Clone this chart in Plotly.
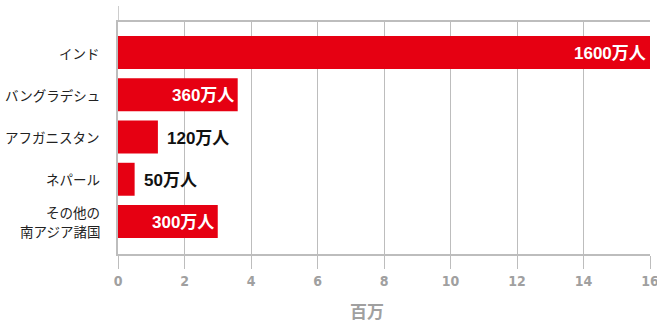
import plotly.graph_objects as go

# Population by country (millions)
categories = ["インド", "バングラデシュ", "アフガニスタン", "ネパール", "その他の<br>南アジア諸国"]
values = [16.0, 3.6, 1.2, 0.5, 3.0]
value_labels = ["1600万人", "360万人", "120万人", "50万人", "300万人"]
label_inside = [True, True, False, False, True]
x_ticks = [0, 2, 4, 6, 8, 10, 12, 14, 16]
x_title = "百万"

RED = "#e60012"
GRID = "#bdbdbd"
TICK_GRAY = "#a0a0a0"
JP_FONT = "Noto Sans CJK JP"
NUM_FONT = "Liberation Sans, Noto Sans CJK JP"
COND_FONT = "DejaVu Sans Condensed, Liberation Sans Narrow, sans-serif"

ML, MR, MT, MB = 118, 7, 22, 68
plot_w = 657 - ML - MR
plot_h = 322 - MT - MB

ypos = list(range(len(categories)))

fig = go.Figure(
    go.Bar(
        x=values,
        y=ypos,
        orientation="h",
        width=0.78,
        marker=dict(color=RED, line=dict(width=0)),
        hoverinfo="skip",
    )
)

# value labels: white inside the long bars, black just past the short ones
for yi, v, txt, inside in zip(ypos, values, value_labels, label_inside):
    fig.add_annotation(
        x=v, y=yi, xref="x", yref="y",
        text="<b>%s</b>" % txt,
        showarrow=False,
        xanchor="right" if inside else "left",
        xshift=-2 if inside else 7,
        yshift=-1,
        font=dict(family=NUM_FONT, size=17, color="white" if inside else "#111"),
    )

# category labels, right-aligned left of the axis; multi-line ones stacked
label_x = -16 / plot_w
line_gap = 18.5
for yi, cat in zip(ypos, categories):
    lines = cat.split("<br>")
    n = len(lines)
    for k, line in enumerate(lines):
        fig.add_annotation(
            x=label_x, y=yi, xref="paper", yref="y",
            xanchor="right", yanchor="middle",
            text=line, showarrow=False,
            yshift=((n - 1) / 2 - k) * line_gap,
            font=dict(family=JP_FONT, size=13.5, color="#222"),
        )

# axis title below the tick labels
fig.add_annotation(
    x=(367 - ML) / plot_w, y=(322 - MB - 310) / plot_h,
    xref="paper", yref="paper", yanchor="middle",
    text="<b>%s</b>" % x_title, showarrow=False,
    font=dict(family=JP_FONT, size=17, color=TICK_GRAY),
)

fig.update_layout(
    width=657, height=322,
    margin=dict(l=ML, r=MR, t=MT, b=MB, autoexpand=False),
    plot_bgcolor="white", paper_bgcolor="white",
    showlegend=False,
    xaxis=dict(
        range=[0, 16],
        tickvals=x_ticks,
        ticktext=["<b>%d</b>" % t for t in x_ticks],
        tickfont=dict(family=COND_FONT, size=14, color=TICK_GRAY),
        ticklabeloverflow="allow",
        automargin=False,
        showgrid=True, gridcolor=GRID, gridwidth=1,
        showline=True, linecolor=GRID, linewidth=1.5, mirror=True,
        ticks="outside", ticklen=13, tickcolor=GRID, tickwidth=1,
        zeroline=False, fixedrange=True,
    ),
    yaxis=dict(
        range=[4.769, -0.722],
        tickvals=ypos,
        showticklabels=False,
        automargin=False,
        showgrid=False, zeroline=False,
        showline=True, linecolor=GRID, linewidth=1.5,
        fixedrange=True,
    ),
)

# left axis line runs a little above the plot frame
fig.add_shape(
    type="line", xref="x", yref="paper",
    x0=0, x1=0, y0=1, y1=1 + 16 / plot_h,
    line=dict(color=GRID, width=1.5),
)

fig.write_html("out.html")
